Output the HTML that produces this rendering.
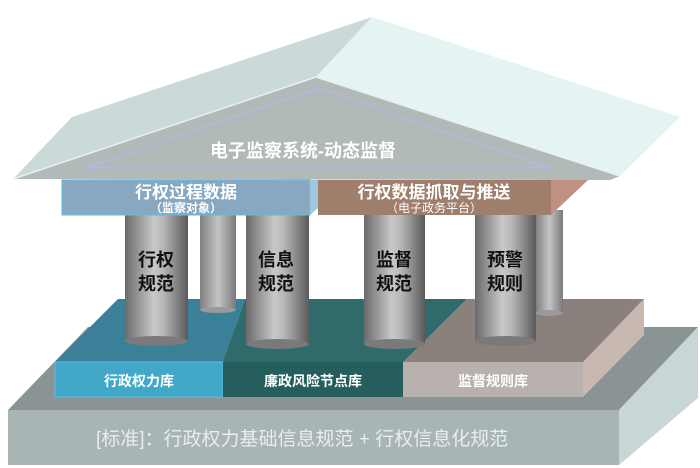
<!DOCTYPE html>
<html><head><meta charset="utf-8"><style>
html,body{margin:0;padding:0;background:#fff;}
svg{display:block;}
text{font-family:"Liberation Sans","Noto Sans CJK SC",sans-serif;}
</style></head><body>
<svg width="700" height="468" viewBox="0 0 700 468" xmlns="http://www.w3.org/2000/svg">
<defs>
<linearGradient id="col" x1="0" x2="1" y1="0" y2="0">
<stop offset="0" stop-color="#6a6a6a"/><stop offset="0.45" stop-color="#c8c8c8"/><stop offset="0.6" stop-color="#b8b8b8"/><stop offset="1" stop-color="#5a5a5a"/>
</linearGradient>
<linearGradient id="colb" x1="0" x2="1" y1="0" y2="0">
<stop offset="0" stop-color="#808080"/><stop offset="0.5" stop-color="#c4c4c4"/><stop offset="1" stop-color="#7a7a7a"/>
</linearGradient>
</defs>
<!-- base -->
<polygon points="8,410 88,327 698,327 619,410" fill="#8a9494"/>
<polygon points="619,410 698,327 698,398 619,465" fill="#c8d6d6"/>
<rect x="8" y="410" width="611" height="55" fill="#a9b4b4"/>
<text x="96" y="445" font-size="19" fill="#e6eeee">[标准]：行政权力基础信息规范 + 行权信息化规范</text>
<!-- blocks -->
<polygon points="55,362 118,299 245,299 223,362" fill="#3a8098"/>
<polygon points="223,362 245,299 467,299 403,362" fill="#2e6b6a"/>
<polygon points="403,362 467,299 644,299 583,362" fill="#8a807c"/>
<polygon points="583,362 644,299 644,335 583,397" fill="#c9b8b0"/>
<rect x="55" y="362" width="168" height="35" fill="#42a8c8" stroke="#5cc0e0" stroke-width="1"/>
<rect x="223" y="362" width="180" height="35" fill="#255e5c"/>
<rect x="403" y="362" width="180" height="35" fill="#b9b1ad"/>
<text x="139" y="386" font-size="14" font-weight="bold" fill="#fff" text-anchor="middle">行政权力库</text>
<text x="313" y="386" font-size="14" font-weight="bold" fill="#fff" text-anchor="middle">廉政风险节点库</text>
<text x="493" y="386" font-size="14" font-weight="bold" fill="#fff" text-anchor="middle">监督规则库</text>
<!-- back columns -->
<rect x="200" y="210" width="36" height="100" fill="url(#colb)"/><ellipse cx="218" cy="310" rx="18" ry="3" fill="#9a9a9a"/>
<rect x="536" y="210" width="27" height="103" fill="url(#colb)"/><ellipse cx="549.5" cy="313" rx="13.5" ry="3" fill="#9a9a9a"/>
<!-- front columns -->
<rect x="125" y="210" width="63" height="131" fill="url(#col)"/><ellipse cx="156.5" cy="341" rx="31.5" ry="5" fill="#7a7a7a"/>
<rect x="246" y="210" width="63" height="134" fill="url(#col)"/><ellipse cx="277.5" cy="344" rx="31.5" ry="5" fill="#7a7a7a"/>
<rect x="364" y="210" width="61" height="134" fill="url(#col)"/><ellipse cx="394.5" cy="344" rx="30.5" ry="5" fill="#7a7a7a"/>
<rect x="475" y="210" width="61" height="131" fill="url(#col)"/><ellipse cx="505.5" cy="341" rx="30.5" ry="5" fill="#7a7a7a"/>
<g font-size="18" font-weight="bold" fill="#111" text-anchor="middle">
<text x="156" y="266">行权</text><text x="156" y="290">规范</text>
<text x="276" y="266">信息</text><text x="276" y="290">规范</text>
<text x="394" y="266">监督</text><text x="394" y="290">规范</text>
<text x="505" y="266">预警</text><text x="505" y="290">规则</text>
</g>
<!-- beams -->
<rect x="62" y="180" width="248" height="35" fill="#88a8c2" stroke="#58c0e0" stroke-width="1"/>
<polygon points="310,180 318,180 318,208 310,215" fill="#9ec8e0"/>
<rect x="318" y="180" width="233" height="35" fill="#a07e6c"/>
<polygon points="551,180 588,180 551,215" fill="#c09080"/>
<text x="186" y="198" font-size="17" font-weight="bold" fill="#fff" text-anchor="middle">行权过程数据</text>
<text x="186" y="212" font-size="12" font-weight="bold" fill="#fff" text-anchor="middle">（监察对象）</text>
<text x="434" y="198" font-size="17" font-weight="bold" fill="#fff" text-anchor="middle">行权数据抓取与推送</text>
<text x="434" y="212" font-size="12" fill="#fff" text-anchor="middle">（电子政务平台）</text>
<!-- roof -->
<polygon points="13,179 72,117 372,17 316,77" fill="#ccd9d9"/>
<polygon points="372,17 680,117 620,176 316,77" fill="#e6f3f3"/>
<polygon points="13,179 316,77 620,176 610,180" fill="#b1b9b9"/>
<line x1="13" y1="179" x2="316" y2="77" stroke="#e8f0f0" stroke-width="1.5"/>
<line x1="316" y1="77" x2="620" y2="176" stroke="#e8f0f0" stroke-width="1.5"/>
<polygon points="86,168 318,88 550,168" fill="none" stroke="#b8b8ee" stroke-width="1.2"/>
<text x="303" y="157" font-size="18" font-weight="bold" fill="#fff" text-anchor="middle">电子监察系统-动态监督</text>
</svg>
</body></html>
